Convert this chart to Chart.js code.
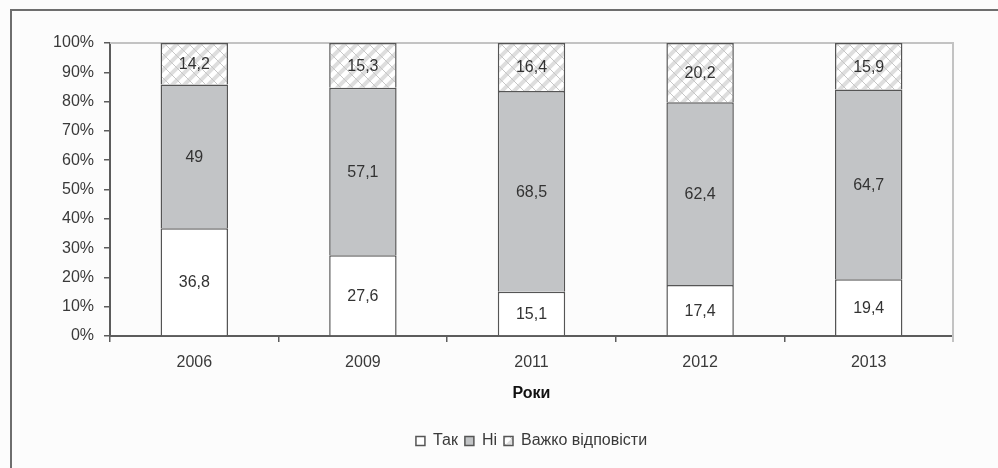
<!DOCTYPE html>
<html>
<head>
<meta charset="utf-8">
<script src="https://cdn.jsdelivr.net/npm/chart.js@4/dist/chart.umd.min.js"></script>
<style>
  html, body { margin: 0; padding: 0; background: #fcfcfc; }
  #frame {
    position: absolute; left: 10px; top: 9px;
    border-left: 2px solid #6e6e6e; border-top: 2px solid #6e6e6e;
  }
  #frame canvas { display: block; }
</style>
</head>
<body>
<div id="frame"><canvas id="chart" width="986" height="457"></canvas></div>
<script>
// data
const years = ['2006', '2009', '2011', '2012', '2013'];
const yesValues = [36.8, 27.6, 15.1, 17.4, 19.4];
const noValues = [49, 57.1, 68.5, 62.4, 64.7];
const hardValues = [14.2, 15.3, 16.4, 20.2, 15.9];
const seriesNames = ['Так', 'Ні', 'Важко відповісти'];

const FONT = 'Liberation Sans, Arial, sans-serif';

// hatch fill for the third series: white "/" bands on light grey
function makeHatch() {
    const n = 12;
    const c = document.createElement('canvas');
    c.width = n; c.height = n;
    const g = c.getContext('2d');
    g.fillStyle = '#dedede';
    g.fillRect(0, 0, n, n);
    g.strokeStyle = '#ffffff';
    g.lineWidth = 4.5;
    g.beginPath();
    g.moveTo(0, n); g.lineTo(n, 0);
    g.moveTo(-n / 2, n / 2); g.lineTo(n / 2, -n / 2);
    g.moveTo(n / 2, n * 1.5); g.lineTo(n * 1.5, n / 2);
    g.stroke();
    g.strokeStyle = '#c6c6c6';
    g.lineWidth = 1;
    g.beginPath();
    g.moveTo(0, 0); g.lineTo(n, n);
    g.stroke();
    return g.createPattern(c, 'repeat');
}

const ctx = document.getElementById('chart').getContext('2d');
const hatch = makeHatch();

// light grey top/right border of the plot area
const plotFrame = {
    id: 'plotFrame',
    beforeDatasetsDraw(chart) {
        const a = chart.chartArea;
        const c = chart.ctx;
        c.save();
        c.strokeStyle = '#c3c3c3';
        c.lineWidth = 2;
        c.beginPath();
        c.moveTo(a.left, a.top);
        c.lineTo(a.right, a.top);
        c.lineTo(a.right, a.bottom + 6);
        c.stroke();
        c.restore();
    }
};

// values written in the middle of each segment
const segmentLabels = {
    id: 'segmentLabels',
    afterDatasetsDraw(chart) {
        const c = chart.ctx;
        c.save();
        c.font = '16px ' + FONT;
        c.fillStyle = '#333';
        c.textAlign = 'center';
        c.textBaseline = 'middle';
        chart.data.datasets.forEach(function (ds, i) {
            chart.getDatasetMeta(i).data.forEach(function (bar, j) {
                const txt = String(ds.data[j]).replace('.', ',');
                c.fillText(txt, bar.x, (bar.y + bar.base) / 2 + 1);
            });
        });
        c.restore();
    }
};

new Chart(ctx, {
    type: 'bar',
    data: {
        labels: years,
        datasets: [{
            label: seriesNames[0],
            data: yesValues,
            backgroundColor: '#ffffff',
            borderColor: '#555555',
            borderWidth: 1.5
        }, {
            label: seriesNames[1],
            data: noValues,
            backgroundColor: '#c2c4c6',
            borderColor: '#555555',
            borderWidth: 1.5
        }, {
            label: seriesNames[2],
            data: hardValues,
            backgroundColor: hatch,
            borderColor: '#555555',
            borderWidth: 1.5
        }]
    },
    options: {
        responsive: false,
        animation: false,
        barPercentage: 0.4,
        categoryPercentage: 1,
        layout: { padding: { top: 32, right: 45, left: 0, bottom: 9 } },
        scales: {
            x: {
                stacked: true,
                afterFit: function (s) { s.height = 90; },
                border: { color: '#5c5c5c', width: 2 },
                grid: {
                    offset: true,
                    drawOnChartArea: false,
                    tickLength: 6,
                    color: '#5c5c5c',
                    lineWidth: 1.5
                },
                ticks: { color: '#3a3a3a', font: { family: FONT, size: 16 }, padding: 11 },
                title: {
                    display: true,
                    text: 'Роки',
                    color: '#111',
                    font: { family: FONT, size: 16, weight: 'bold' },
                    padding: { top: 0, bottom: 23 }
                }
            },
            y: {
                stacked: true,
                min: 0,
                max: 100,
                afterFit: function (s) { s.width = 98; },
                border: { color: '#5c5c5c', width: 2 },
                grid: {
                    drawOnChartArea: false,
                    tickLength: 6,
                    color: '#5c5c5c',
                    lineWidth: 1.5
                },
                ticks: {
                    stepSize: 10,
                    padding: 10,
                    color: '#3a3a3a',
                    font: { family: FONT, size: 16 },
                    callback: function (v) { return v + '%'; }
                }
            }
        },
        plugins: {
            legend: {
                display: true,
                position: 'bottom',
                fullSize: false,
                labels: {
                    color: '#3a3a3a',
                    font: { family: FONT, size: 16 },
                    boxWidth: 9,
                    boxHeight: 9,
                    padding: 7
                }
            },
            tooltip: { enabled: false }
        }
    },
    plugins: [plotFrame, segmentLabels]
});
</script>
</body>
</html>
